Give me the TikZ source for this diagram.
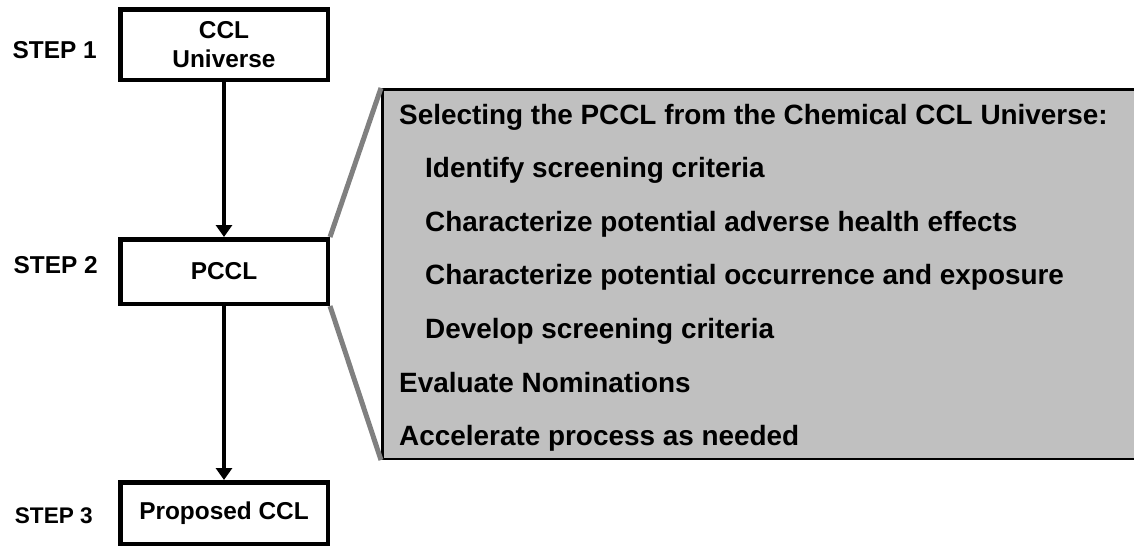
\documentclass[tikz,border=0pt]{standalone}
\usepackage{fontspec}
\setmainfont{Liberation Sans}
\usetikzlibrary{positioning}
\usetikzlibrary{arrows.meta}
\definecolor{pGray}{HTML}{C0C0C0}
\definecolor{lGray}{HTML}{808080}

\begin{document}
\begin{tikzpicture}[x=1pt, y=-1pt,
    stepbox/.style = {draw, line width=4.5pt, minimum width=207.5pt, inner sep=0pt, align=center,
      font=\bfseries\fontsize{24.4}{28.4}\selectfont},
    steplabel/.style = {anchor=base east, inner sep=0pt, font=\bfseries\fontsize{24.4}{29}\selectfont},
    panel/.style = {draw, fill=pGray, line width=2.5pt, anchor=north west,
      minimum width=780pt, minimum height=369.5pt},
    item/.style = {anchor=base west, inner sep=0pt, text height=20pt, text depth=6pt,
      font=\bfseries\fontsize{27.9}{32}\selectfont},
    flow/.style = {line width=3.8pt, -{Triangle[width=16pt,length=12pt]}},
    zoomline/.style = {draw=lGray, line width=5pt},
  ]
    \useasboundingbox (0,0) rectangle (1134,547);

    % the three steps
    \node[stepbox, minimum height=70.5pt] (ccl) at (224,44.5) {CCL\\Universe};
    \node[stepbox, minimum height=64.5pt] (pccl) at (224,271.5) {PCCL};
    \node[stepbox, minimum height=61.5pt] (prop) at (224,513) {Proposed CCL};

    \node[steplabel] (s1) at (97,58.5) {STEP 1};
    \node[steplabel] (s2) at (98,273) {STEP 2};
    \node[steplabel, font=\bfseries\fontsize{22.6}{27}\selectfont] (s3) at (93,523.5) {STEP 3};

    \draw[flow] (ccl.south) -- (pccl.north);
    \draw[flow] (pccl.south) -- (prop.north);

    % detail panel for step 2
    \node[panel] (panel) at (381,88) {};
    \draw[zoomline] (pccl.north east) -- (panel.north west);
    \draw[zoomline] (pccl.south east) -- (panel.south west);

    \node[item] (sel) at (399,124) {Selecting the PCCL from the Chemical CCL Universe:};
    \node[item, below=27.2pt of sel.south west, anchor=north west, xshift=26pt] (idf) {Identify screening criteria};
    \node[item, below=27.2pt of idf.south west, anchor=north west] (hlth) {Characterize potential adverse health effects};
    \node[item, below=27.2pt of hlth.south west, anchor=north west] (occ) {Characterize potential occurrence and exposure};
    \node[item, below=27.2pt of occ.south west, anchor=north west] (dev) {Develop screening criteria};
    \node[item, below=27.2pt of dev.south west, anchor=north west, xshift=-26pt] (nom) {Evaluate Nominations};
    \node[item, below=27.2pt of nom.south west, anchor=north west] (acc) {Accelerate process as needed};

\end{tikzpicture}
\end{document}
